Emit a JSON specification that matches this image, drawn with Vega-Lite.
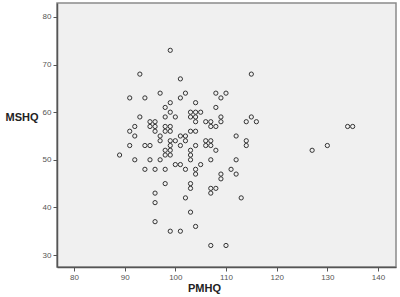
{
  "$schema": "https://vega.github.io/schema/vega-lite/v6.json",
  "width": 339,
  "height": 264,
  "autosize": {"type": "none"},
  "padding": {"left": 57, "top": 3, "right": 4, "bottom": 30},
  "background": "#ffffff",
  "config": {
    "view": {"fill": "#f0f0f0", "stroke": "#8a8a8a", "strokeWidth": 1.5},
    "font": "Liberation Sans"
  },
  "data": {"values": [
    {"PMHQ": 99, "MSHQ": 73}, {"PMHQ": 93, "MSHQ": 68}, {"PMHQ": 115, "MSHQ": 68}, {"PMHQ": 101, "MSHQ": 67},
    {"PMHQ": 97, "MSHQ": 64}, {"PMHQ": 102, "MSHQ": 64}, {"PMHQ": 108, "MSHQ": 64}, {"PMHQ": 110, "MSHQ": 64},
    {"PMHQ": 91, "MSHQ": 63}, {"PMHQ": 94, "MSHQ": 63}, {"PMHQ": 101, "MSHQ": 63}, {"PMHQ": 109, "MSHQ": 63},
    {"PMHQ": 99, "MSHQ": 62}, {"PMHQ": 104, "MSHQ": 62}, {"PMHQ": 98, "MSHQ": 61}, {"PMHQ": 108, "MSHQ": 61},
    {"PMHQ": 99, "MSHQ": 60}, {"PMHQ": 103, "MSHQ": 60}, {"PMHQ": 104, "MSHQ": 60}, {"PMHQ": 105, "MSHQ": 60},
    {"PMHQ": 93, "MSHQ": 59}, {"PMHQ": 98, "MSHQ": 59}, {"PMHQ": 100, "MSHQ": 59}, {"PMHQ": 103, "MSHQ": 59},
    {"PMHQ": 104, "MSHQ": 59}, {"PMHQ": 109, "MSHQ": 59}, {"PMHQ": 115, "MSHQ": 59},
    {"PMHQ": 95, "MSHQ": 58}, {"PMHQ": 96, "MSHQ": 58}, {"PMHQ": 104, "MSHQ": 58}, {"PMHQ": 106, "MSHQ": 58},
    {"PMHQ": 107, "MSHQ": 58}, {"PMHQ": 109, "MSHQ": 58}, {"PMHQ": 114, "MSHQ": 58}, {"PMHQ": 116, "MSHQ": 58},
    {"PMHQ": 92, "MSHQ": 57}, {"PMHQ": 95, "MSHQ": 57}, {"PMHQ": 96, "MSHQ": 57}, {"PMHQ": 98, "MSHQ": 57},
    {"PMHQ": 99, "MSHQ": 57}, {"PMHQ": 107, "MSHQ": 57}, {"PMHQ": 108, "MSHQ": 57}, {"PMHQ": 134, "MSHQ": 57},
    {"PMHQ": 135, "MSHQ": 57},
    {"PMHQ": 91, "MSHQ": 56}, {"PMHQ": 96, "MSHQ": 56}, {"PMHQ": 98, "MSHQ": 56}, {"PMHQ": 99, "MSHQ": 56},
    {"PMHQ": 103, "MSHQ": 56}, {"PMHQ": 104, "MSHQ": 56},
    {"PMHQ": 92, "MSHQ": 55}, {"PMHQ": 97, "MSHQ": 55}, {"PMHQ": 101, "MSHQ": 55}, {"PMHQ": 102, "MSHQ": 55},
    {"PMHQ": 112, "MSHQ": 55},
    {"PMHQ": 97, "MSHQ": 54}, {"PMHQ": 99, "MSHQ": 54}, {"PMHQ": 100, "MSHQ": 54}, {"PMHQ": 102, "MSHQ": 54},
    {"PMHQ": 106, "MSHQ": 54}, {"PMHQ": 107, "MSHQ": 54}, {"PMHQ": 114, "MSHQ": 54},
    {"PMHQ": 91, "MSHQ": 53}, {"PMHQ": 94, "MSHQ": 53}, {"PMHQ": 95, "MSHQ": 53}, {"PMHQ": 99, "MSHQ": 53},
    {"PMHQ": 101, "MSHQ": 53}, {"PMHQ": 104, "MSHQ": 53}, {"PMHQ": 106, "MSHQ": 53}, {"PMHQ": 107, "MSHQ": 53},
    {"PMHQ": 114, "MSHQ": 53}, {"PMHQ": 130, "MSHQ": 53},
    {"PMHQ": 98, "MSHQ": 52}, {"PMHQ": 99, "MSHQ": 52}, {"PMHQ": 103, "MSHQ": 52}, {"PMHQ": 108, "MSHQ": 52},
    {"PMHQ": 127, "MSHQ": 52},
    {"PMHQ": 89, "MSHQ": 51}, {"PMHQ": 98, "MSHQ": 51}, {"PMHQ": 99, "MSHQ": 51}, {"PMHQ": 103, "MSHQ": 51},
    {"PMHQ": 92, "MSHQ": 50}, {"PMHQ": 95, "MSHQ": 50}, {"PMHQ": 97, "MSHQ": 50}, {"PMHQ": 103, "MSHQ": 50},
    {"PMHQ": 107, "MSHQ": 50}, {"PMHQ": 112, "MSHQ": 50},
    {"PMHQ": 100, "MSHQ": 49}, {"PMHQ": 101, "MSHQ": 49}, {"PMHQ": 105, "MSHQ": 49},
    {"PMHQ": 94, "MSHQ": 48}, {"PMHQ": 96, "MSHQ": 48}, {"PMHQ": 98, "MSHQ": 48}, {"PMHQ": 102, "MSHQ": 48},
    {"PMHQ": 104, "MSHQ": 48}, {"PMHQ": 111, "MSHQ": 48},
    {"PMHQ": 104, "MSHQ": 47}, {"PMHQ": 109, "MSHQ": 47}, {"PMHQ": 112, "MSHQ": 47},
    {"PMHQ": 109, "MSHQ": 46},
    {"PMHQ": 98, "MSHQ": 45}, {"PMHQ": 103, "MSHQ": 45},
    {"PMHQ": 103, "MSHQ": 44}, {"PMHQ": 107, "MSHQ": 44}, {"PMHQ": 108, "MSHQ": 44},
    {"PMHQ": 96, "MSHQ": 43}, {"PMHQ": 107, "MSHQ": 43},
    {"PMHQ": 102, "MSHQ": 42}, {"PMHQ": 113, "MSHQ": 42},
    {"PMHQ": 96, "MSHQ": 41}, {"PMHQ": 103, "MSHQ": 39}, {"PMHQ": 96, "MSHQ": 37}, {"PMHQ": 104, "MSHQ": 36},
    {"PMHQ": 99, "MSHQ": 35}, {"PMHQ": 101, "MSHQ": 35}, {"PMHQ": 107, "MSHQ": 32}, {"PMHQ": 110, "MSHQ": 32}
  ]},
  "mark": {"type": "point", "shape": "circle", "filled": false, "stroke": "#333333", "strokeWidth": 1, "size": 18, "opacity": 1},
  "encoding": {
    "x": {
      "field": "PMHQ", "type": "quantitative",
      "scale": {"domain": [76.65, 143.55], "nice": false, "zero": false},
      "axis": {
        "values": [80, 90, 100, 110, 120, 130, 140],
        "grid": false, "domainColor": "#555555", "domainWidth": 1.5,
        "tickColor": "#555555", "tickSize": 4, "labelColor": "#555555", "labelFontSize": 8, "labelPadding": 2,
        "title": "PMHQ", "titleFontSize": 11, "titleFontWeight": "bold", "titleColor": "#222222",
        "titleX": 147, "titleY": 21, "titleBaseline": "middle", "titleAnchor": "middle", "titleAlign": "center"
      }
    },
    "y": {
      "field": "MSHQ", "type": "quantitative",
      "scale": {"domain": [27.48, 82.94], "nice": false, "zero": false},
      "axis": {
        "values": [30, 40, 50, 60, 70, 80],
        "grid": false, "domainColor": "#555555", "domainWidth": 1.5,
        "tickColor": "#555555", "tickSize": 4, "labelColor": "#555555", "labelFontSize": 8, "labelPadding": 2,
        "title": "MSHQ", "titleFontSize": 11, "titleFontWeight": "bold", "titleColor": "#222222",
        "titleAngle": 0, "titleX": -52, "titleY": 114, "titleAlign": "left", "titleBaseline": "middle"
      }
    }
  }
}
